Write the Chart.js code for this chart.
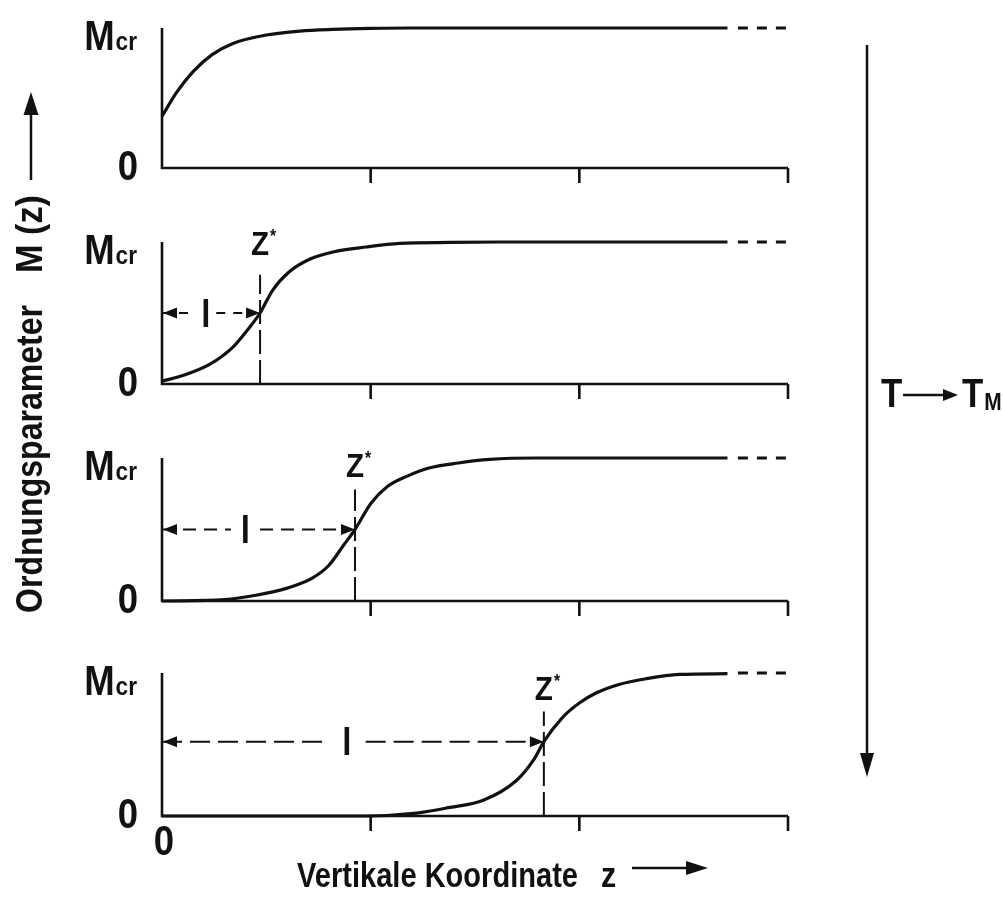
<!DOCTYPE html>
<html>
<head>
<meta charset="utf-8">
<script src="https://cdn.jsdelivr.net/npm/chart.js@4.4.1/dist/chart.umd.min.js"></script>
<style>
  html, body { margin: 0; padding: 0; background: #fff; }
  #wrap { position: relative; width: 1003px; height: 905px; overflow: hidden; background: #fff; }
  #wrap canvas { position: absolute; left: 0; }
</style>
</head>
<body>
<div id="wrap"></div>
<script>
// ---------------- data ----------------
// z axis: 0 .. 3 (ticks at 1, 2, 3); M axis: 0 .. Mcr (normalised to 1)
const Z_TICKS = [1, 2, 3];
const Z_MAX = 3;
const SOLID_END = 2.71;      // solid curve ends here, dashed continuation follows
const DASH_FROM = 2.76;

// panel 1 (top)
const p1Z = [0, 0.07, 0.15, 0.24, 0.34, 0.50, 0.66, 0.82, 1.0, 1.2, 1.5, 2.0, SOLID_END];
const p1M = [0.37, 0.54, 0.69, 0.81, 0.89, 0.95, 0.978, 0.99, 0.997, 1, 1, 1, 1];
// panel 2
const p2Z = [0, 0.10, 0.23, 0.34, 0.42, 0.47, 0.53, 0.61, 0.71, 0.82, 0.98, 1.14, 1.38, 1.62, SOLID_END];
const p2M = [0.02, 0.06, 0.14, 0.26, 0.40, 0.50, 0.66, 0.79, 0.88, 0.93, 0.965, 0.99, 0.997, 1, 1];
// panel 3
const p3Z = [0, 0.30, 0.45, 0.60, 0.72, 0.80, 0.87, 0.925, 1.0, 1.08, 1.17, 1.28, 1.42, 1.57, 1.8, SOLID_END];
const p3M = [0, 0.01, 0.04, 0.09, 0.16, 0.25, 0.39, 0.50, 0.68, 0.80, 0.87, 0.93, 0.965, 0.99, 1, 1];
// panel 4 (bottom)
const p4Z = [0, 0.98, 1.22, 1.38, 1.54, 1.70, 1.78, 1.83, 1.92, 2.00, 2.08, 2.19, 2.32, 2.48, SOLID_END];
const p4M = [0, 0, 0.02, 0.06, 0.11, 0.25, 0.39, 0.52, 0.69, 0.79, 0.86, 0.92, 0.96, 0.99, 0.995];

// z* position, top of its dashed marker, height of the "l" arrow, position of "l" label
const zStar        = [null, 0.47, 0.925, 1.83];
const zStarTop     = [null, 0.77, 0.78, 0.73];
const lArrowM      = [null, 0.50, 0.50, 0.52];
const lLabelZ      = [null, 0.21, 0.40, 0.886];

// texts
const Y_TOP_LABEL = 'M', Y_TOP_SUB = 'cr', Y_ZERO_LABEL = '0', X_ZERO_LABEL = '0';
const ZSTAR_LABEL = 'Z', ZSTAR_SUP = '*', L_LABEL = 'l';
const Y_TITLE = 'Ordnungsparameter', Y_TITLE_VAR = 'M (z)';
const X_TITLE = 'Vertikale Koordinate', X_TITLE_VAR = 'z';
const T_LABEL = 'T', TM_LABEL = 'T', TM_SUB = 'M';

// ---------------- layout / style ----------------
const INK = '#111';
const FONT = '"Liberation Sans", Arial, sans-serif';
const SX = 0.87;
const PANEL_PX = [[28, 168], [242, 384], [458, 601], [673, 816]];
const PLOT_LEFT = 162, PLOT_RIGHT = 788, W = 1003, H = 905;
const PAD_T = 45, PAD_B = 50;
const zStarLabelGap = [null, 20, 12, 12];
const lGap = [null, 0.05, 0.07, 0.09];
const lDash = [null, [9, 8], [13, 8], [20, 8]];

const PANELS = [
  { z: p1Z, m: p1M }, { z: p2Z, m: p2M }, { z: p3Z, m: p3M }, { z: p4Z, m: p4M }
];

function pts(zs, ms) { return zs.map((z, i) => ({ x: z, y: ms[i] })); }

function txt(ctx, s, x, y, size, o) {
  o = o || {};
  ctx.save();
  ctx.font = 'bold ' + size + 'px ' + FONT;
  ctx.textBaseline = 'alphabetic';
  ctx.textAlign = 'left';
  ctx.fillStyle = INK;
  ctx.translate(x, y);
  if (o.rot) ctx.rotate(o.rot);
  const mw = ctx.measureText(s).width;
  const sx = o.width ? o.width / mw : SX;
  const w = mw * sx;
  let ox = 0;
  if (o.align === 'right') ox = -w; else if (o.align === 'center') ox = -w / 2;
  ctx.translate(ox, 0);
  ctx.scale(sx, 1);
  ctx.fillText(s, 0, 0);
  ctx.restore();
  return w;
}

function arrowHead(ctx, tipX, tipY, dir, len, half) {
  // dir: 'left' | 'right' | 'up' | 'down'
  ctx.save();
  ctx.fillStyle = INK;
  ctx.beginPath();
  ctx.moveTo(tipX, tipY);
  if (dir === 'left')  { ctx.lineTo(tipX + len, tipY - half); ctx.lineTo(tipX + len, tipY + half); }
  if (dir === 'right') { ctx.lineTo(tipX - len, tipY - half); ctx.lineTo(tipX - len, tipY + half); }
  if (dir === 'up')    { ctx.lineTo(tipX - half, tipY + len); ctx.lineTo(tipX + half, tipY + len); }
  if (dir === 'down')  { ctx.lineTo(tipX - half, tipY - len); ctx.lineTo(tipX + half, tipY - len); }
  ctx.closePath();
  ctx.fill();
  ctx.restore();
}

const panelPlugin = {
  id: 'panelDeco',
  beforeDatasetsDraw(chart) {
    const ctx = chart.ctx, xs = chart.scales.x, ys = chart.scales.y;
    const x0 = xs.getPixelForValue(0), xE = xs.getPixelForValue(Z_MAX);
    const yT = ys.getPixelForValue(1), yB = ys.getPixelForValue(0);
    ctx.save();
    ctx.strokeStyle = INK; ctx.lineWidth = 2.6; ctx.lineCap = 'butt';
    ctx.beginPath();
    ctx.moveTo(x0, yT); ctx.lineTo(x0, yB); ctx.lineTo(xE, yB);
    Z_TICKS.forEach(t => {
      const x = xs.getPixelForValue(t);
      ctx.moveTo(x, yB); ctx.lineTo(x, yB + 15);
    });
    ctx.stroke();
    ctx.restore();
  },
  afterDatasetsDraw(chart) {
    const ctx = chart.ctx, xs = chart.scales.x, ys = chart.scales.y;
    const i = chart.options.plugins.panelDeco.index;
    const x0 = xs.getPixelForValue(0);
    const yT = ys.getPixelForValue(1), yB = ys.getPixelForValue(0);
    // y labels
    const wc = txt(ctx, Y_TOP_SUB, 137, yT + 22, 26, { align: 'right' });
    txt(ctx, Y_TOP_LABEL, 136 - wc, yT + 22, 42, { align: 'right' });
    txt(ctx, Y_ZERO_LABEL, 138, yB + 12, 42, { align: 'right' });
    if (i === 3) txt(ctx, X_ZERO_LABEL, x0 + 2, yB + 39, 42, { align: 'center' });
    if (zStar[i] != null) {
      const xs_ = xs.getPixelForValue(zStar[i]);
      const topPx = ys.getPixelForValue(zStarTop[i]);
      const base = topPx - zStarLabelGap[i];
      const wz = txt(ctx, ZSTAR_LABEL, xs_, base, 34, { align: 'center' });
      txt(ctx, ZSTAR_SUP, xs_ + wz / 2 + 1, base - 24 + 11, 18, {});
      const ay = ys.getPixelForValue(lArrowM[i]);
      arrowHead(ctx, x0 + 1, ay, 'left', 14, 5.5);
      arrowHead(ctx, xs_, ay, 'right', 14, 5.5);
      txt(ctx, L_LABEL, xs.getPixelForValue(lLabelZ[i]), ay + 13.5, 38, { align: 'center' });
    }
  }
};

const wrap = document.getElementById('wrap');

PANELS.forEach((p, i) => {
  const [top, bot] = PANEL_PX[i];
  const cv = document.createElement('canvas');
  const h = bot - top + PAD_T + PAD_B;
  cv.width = W; cv.height = h;
  cv.style.width = W + 'px'; cv.style.height = h + 'px';
  cv.style.top = (top - PAD_T) + 'px';
  wrap.appendChild(cv);

  const datasets = [
    { data: pts(p.z, p.m), borderColor: INK, borderWidth: 3.2, cubicInterpolationMode: 'monotone', clip: false },
    { data: [{ x: DASH_FROM, y: 1 }, { x: Z_MAX, y: 1 }], borderColor: INK, borderWidth: 3.2, borderDash: [10, 9], clip: false }
  ];
  if (zStar[i] != null) {
    datasets.push({ data: [{ x: zStar[i], y: 0 }, { x: zStar[i], y: zStarTop[i] }],
      borderColor: INK, borderWidth: 2, borderDash: [24, 6], clip: false });
    datasets.push({ data: [
        { x: 0, y: lArrowM[i] }, { x: lLabelZ[i] - lGap[i], y: lArrowM[i] },
        { x: lLabelZ[i], y: null },
        { x: lLabelZ[i] + lGap[i], y: lArrowM[i] }, { x: zStar[i] - 0.05, y: lArrowM[i] }
      ], borderColor: INK, borderWidth: 2, borderDash: lDash[i], spanGaps: false, clip: false });
  }

  new Chart(cv, {
    type: 'line',
    data: { datasets },
    options: {
      responsive: false, animation: false, devicePixelRatio: 1,
      parsing: true,
      layout: { padding: { left: PLOT_LEFT, right: W - PLOT_RIGHT, top: PAD_T, bottom: PAD_B } },
      scales: {
        x: { type: 'linear', min: 0, max: Z_MAX, display: false },
        y: { type: 'linear', min: 0, max: 1, display: false }
      },
      elements: { point: { radius: 0, hoverRadius: 0 }, line: { fill: false } },
      plugins: { legend: { display: false }, tooltip: { enabled: false }, panelDeco: { index: i } },
      events: []
    },
    plugins: [panelPlugin]
  });
});

// ---------------- outer titles and arrows ----------------
const dc = document.createElement('canvas');
dc.width = W; dc.height = H; dc.style.top = '0px';
wrap.appendChild(dc);
const g = dc.getContext('2d');
g.strokeStyle = INK; g.fillStyle = INK; g.lineWidth = 2.5;

// vertical title
txt(g, Y_TITLE, 42, 613, 36, { rot: -Math.PI / 2, width: 308 });
txt(g, Y_TITLE_VAR, 42, 273, 36, { rot: -Math.PI / 2, width: 78 });
g.beginPath(); g.moveTo(31, 180); g.lineTo(31, 110); g.stroke();
arrowHead(g, 31, 92, 'up', 23, 7.5);

// horizontal title
txt(g, X_TITLE, 297, 887, 35, { width: 281 });
txt(g, X_TITLE_VAR, 601, 887, 35, {});
g.beginPath(); g.moveTo(632, 868); g.lineTo(690, 868); g.stroke();
arrowHead(g, 708, 868, 'right', 22, 7);

// right: T -> T_M
g.beginPath(); g.moveTo(867, 45); g.lineTo(867, 756); g.stroke();
arrowHead(g, 867, 777, 'down', 24, 7);
txt(g, T_LABEL, 881, 407, 40, {});
g.beginPath(); g.moveTo(903, 395); g.lineTo(944, 395); g.stroke();
arrowHead(g, 958, 395, 'right', 15, 6);
const wT = txt(g, TM_LABEL, 962, 407, 40, {});
txt(g, TM_SUB, 962 + wT + 1, 410, 24, {});
</script>
</body>
</html>
